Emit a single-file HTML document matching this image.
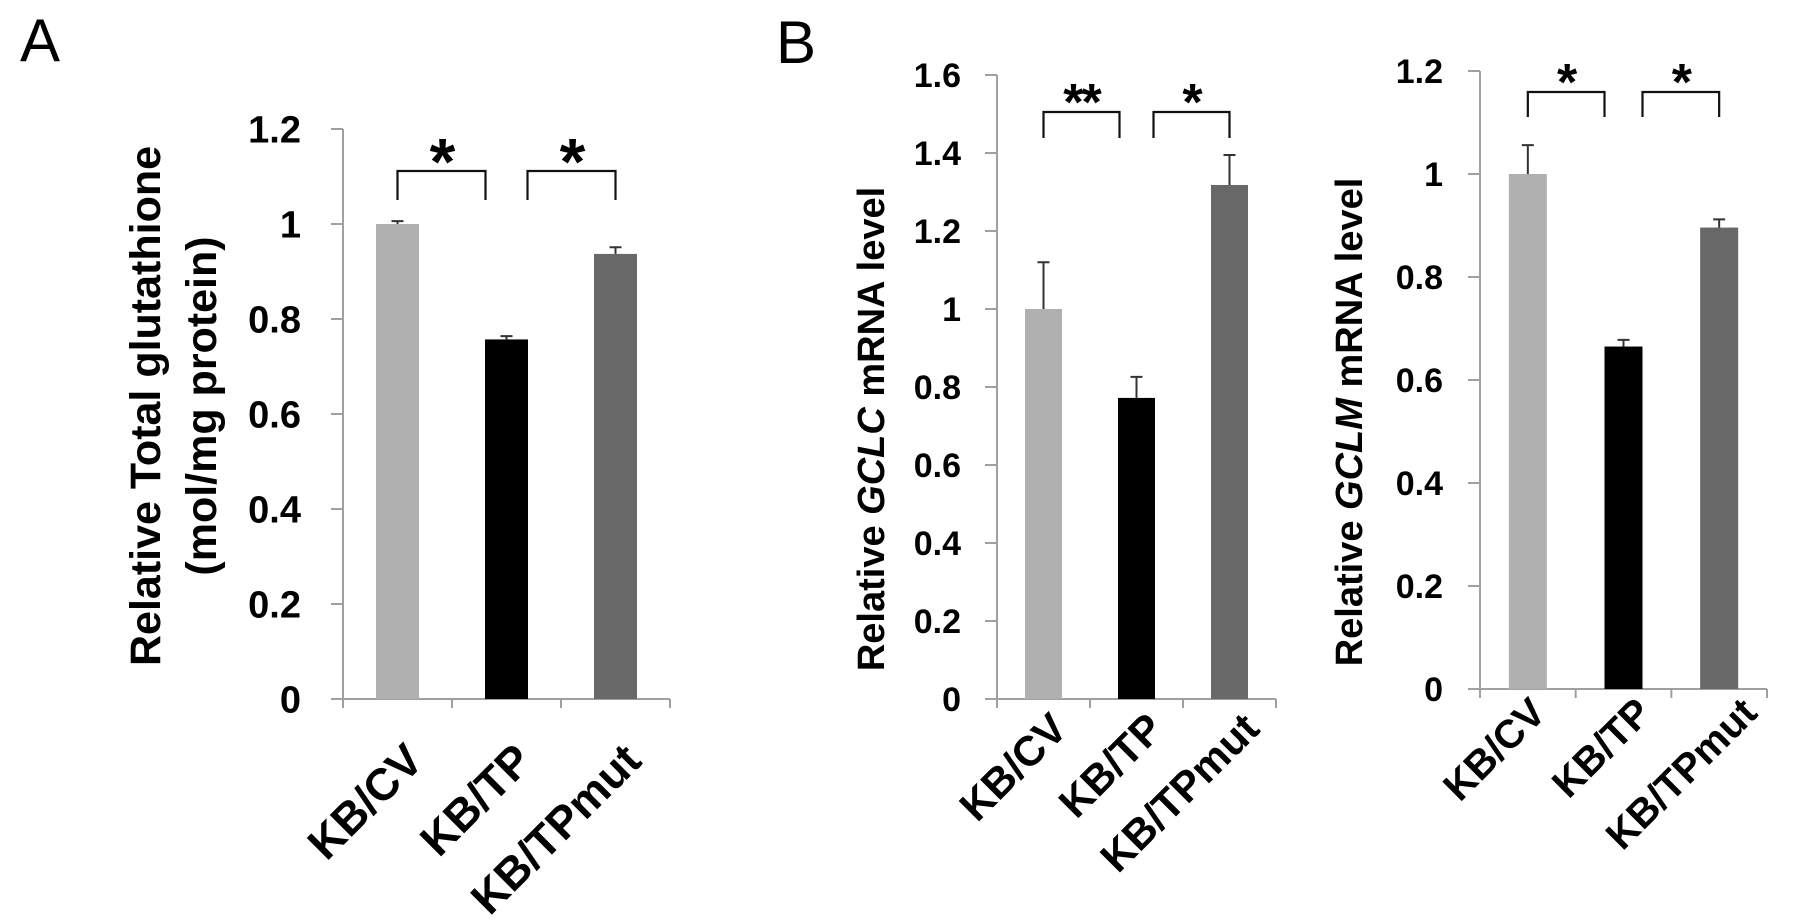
<!DOCTYPE html>
<html><head><meta charset="utf-8"><style>
html,body{margin:0;padding:0;background:#fff;}
svg{display:block;}
text{font-family:"Liberation Sans",Arial,sans-serif;}
</style></head><body>
<svg id="fig" width="1795" height="921" viewBox="0 0 1795 921" xmlns="http://www.w3.org/2000/svg">
<text x="20" y="61" font-size="60">A</text>
<text x="776" y="63" font-size="60">B</text>
</svg>
<script>
const categories = ["KB/CV", "KB/TP", "KB/TPmut"];
const glutathioneValues = [1.0, 0.757, 0.937];
const glutathioneErrors = [0.006, 0.007, 0.014];
const gclcValues = [1.0, 0.772, 1.318];
const gclcErrors = [0.12, 0.054, 0.077];
const gclmValues = [1.0, 0.665, 0.896];
const gclmErrors = [0.056, 0.013, 0.016];
const ticksA = ["0", "0.2", "0.4", "0.6", "0.8", "1", "1.2"];
const ticksGCLC = ["0", "0.2", "0.4", "0.6", "0.8", "1", "1.2", "1.4", "1.6"];
const ticksGCLM = ["0", "0.2", "0.4", "0.6", "0.8", "1", "1.2"];
const sigA = ["*", "*"];
const sigGCLC = ["**", "*"];
const sigGCLM = ["*", "*"];
const colors = ["#b0b0b0", "#000000", "#686868"];

const NS = "http://www.w3.org/2000/svg";
const svg = document.getElementById("fig");
function mk(tag, attrs, parent) {
  const e = document.createElementNS(NS, tag);
  for (const k in attrs) e.setAttribute(k, attrs[k]);
  (parent || svg).appendChild(e);
  return e;
}

function drawChart(c, values, errors, ticks, sig) {
  const g = mk("g", {});
  
  
  const maxV = parseFloat(ticks[ticks.length - 1]);
  const y = v => c.y0 - (v / maxV) * (c.y0 - c.yTop);
  const band = (c.x1 - c.x0) / categories.length;
  const xc = i => c.x0 + band * (i + 0.5);
  const ya = mk("line", {x1: c.x0, y1: c.yTop, x2: c.x0, y2: c.y0, stroke: "#a0a0a0", "stroke-width": 2}, g);
  
  
  const xa = mk("line", {x1: c.x0 - 12, y1: c.y0, x2: c.x1, y2: c.y0, stroke: "#a0a0a0", "stroke-width": 2}, g);
  
  
  ticks.forEach(t => {
    const v = parseFloat(t);
    const ty = y(v);
    const tl = mk("line", {x1: c.x0 - 12, y1: ty, x2: c.x0, y2: ty, stroke: "#a0a0a0", "stroke-width": 2}, g);
    
    
    const tx = mk("text", {x: c.labelRight, y: ty + c.tickFs * 0.36, "font-size": c.tickFs, "font-weight": "bold", "text-anchor": "end"}, g);
    tx.textContent = t;
    
    
  });
  for (let i = 0; i <= categories.length; i++) {
    const xt = c.x0 + band * i;
    const tk = mk("line", {x1: xt, y1: c.y0, x2: xt, y2: c.y0 + 9, stroke: "#a0a0a0", "stroke-width": 2}, g);
    
    
  }
  categories.forEach((cat, i) => {
    const bx = xc(i) - c.barW / 2;
    const top = y(values[i]);
    const r = mk("rect", {x: bx, y: top, width: c.barW, height: c.y0 - top, fill: colors[i]}, g);
    
    
    const et = y(values[i] + errors[i]);
    const eb = mk("path", {d: `M${xc(i)},${top} V${et} M${xc(i) - 6},${et} H${xc(i) + 6}`, stroke: "#333", "stroke-width": 2, fill: "none"}, g);
    
    
    const lx = xc(i) + c.lblDx + i * c.lblStep, ly = c.y0 + c.lblDy;
    const lt = mk("text", {x: lx, y: ly, "font-size": c.catFs, "font-weight": "bold", "text-anchor": "end", transform: `rotate(-45 ${lx} ${ly})`}, g);
    lt.textContent = cat;
    
    
  });
  [[0, 1], [1, 2]].forEach((p, k) => {
    const a = xc(p[0]) + (k === 0 ? 0 : c.brGap), b = xc(p[1]) - (k === 0 ? c.brGap : 0);
    const br = mk("path", {d: `M${a},${c.brBot} V${c.brTop} H${b} V${c.brBot}`, stroke: "#111", "stroke-width": 2.2, fill: "none"}, g);
    
    
    const st = mk("text", {x: (a + b) / 2, y: c.starCy + c.starFs * 0.52, "font-size": c.starFs, "font-weight": "bold", "text-anchor": "middle", "letter-spacing": -2}, g);
    st.textContent = sig[k];
    
    
  });
}

drawChart({name: "chart-total-glutathione", x0: 343, x1: 670, y0: 699, yTop: 129, barW: 43, labelRight: 301, tickFs: 38,
  catFs: 45, lblDx: 28, lblStep: 0, lblDy: 64, brTop: 171, brBot: 200, brGap: 21, starFs: 66, starCy: 150}, glutathioneValues, glutathioneErrors, ticksA, sigA);
drawChart({name: "chart-gclc", x0: 997, x1: 1276, y0: 699, yTop: 75, barW: 37, labelRight: 961, tickFs: 34,
  catFs: 42, lblDx: 26, lblStep: 3, lblDy: 32, brTop: 112, brBot: 138, brGap: 17, starFs: 52, starCy: 93}, gclcValues, gclcErrors, ticksGCLC, sigGCLC);
drawChart({name: "chart-gclm", x0: 1480, x1: 1767, y0: 689, yTop: 71, barW: 38, labelRight: 1443, tickFs: 34,
  catFs: 40, lblDx: 20, lblStep: 10, lblDy: 26, brTop: 92, brBot: 117, brGap: 19, starFs: 52, starCy: 73}, gclmValues, gclmErrors, ticksGCLM, sigGCLM);

function yTitle(x, cy, fs, parts, name) {
  const t = mk("text", {x: x, y: cy, "font-size": fs, "font-weight": "bold", "text-anchor": "middle", transform: `rotate(-90 ${x} ${cy})`});
  parts.forEach(p => {
    const s = mk("tspan", p.it ? {"font-style": "italic"} : {}, t);
    s.textContent = p.t;
  });
  
  
}
yTitle(160, 406, 43, [{t: "Relative Total glutathione"}], "y-axis-title-a-line1");
yTitle(216, 406, 43, [{t: "(mol/mg protein)"}], "y-axis-title-a-line2");
yTitle(884, 429, 38, [{t: "Relative "}, {t: "GCLC", it: true}, {t: " mRNA level"}], "y-axis-title-gclc");
yTitle(1362, 422, 38, [{t: "Relative "}, {t: "GCLM", it: true}, {t: " mRNA level"}], "y-axis-title-gclm");
</script>
</body></html>
